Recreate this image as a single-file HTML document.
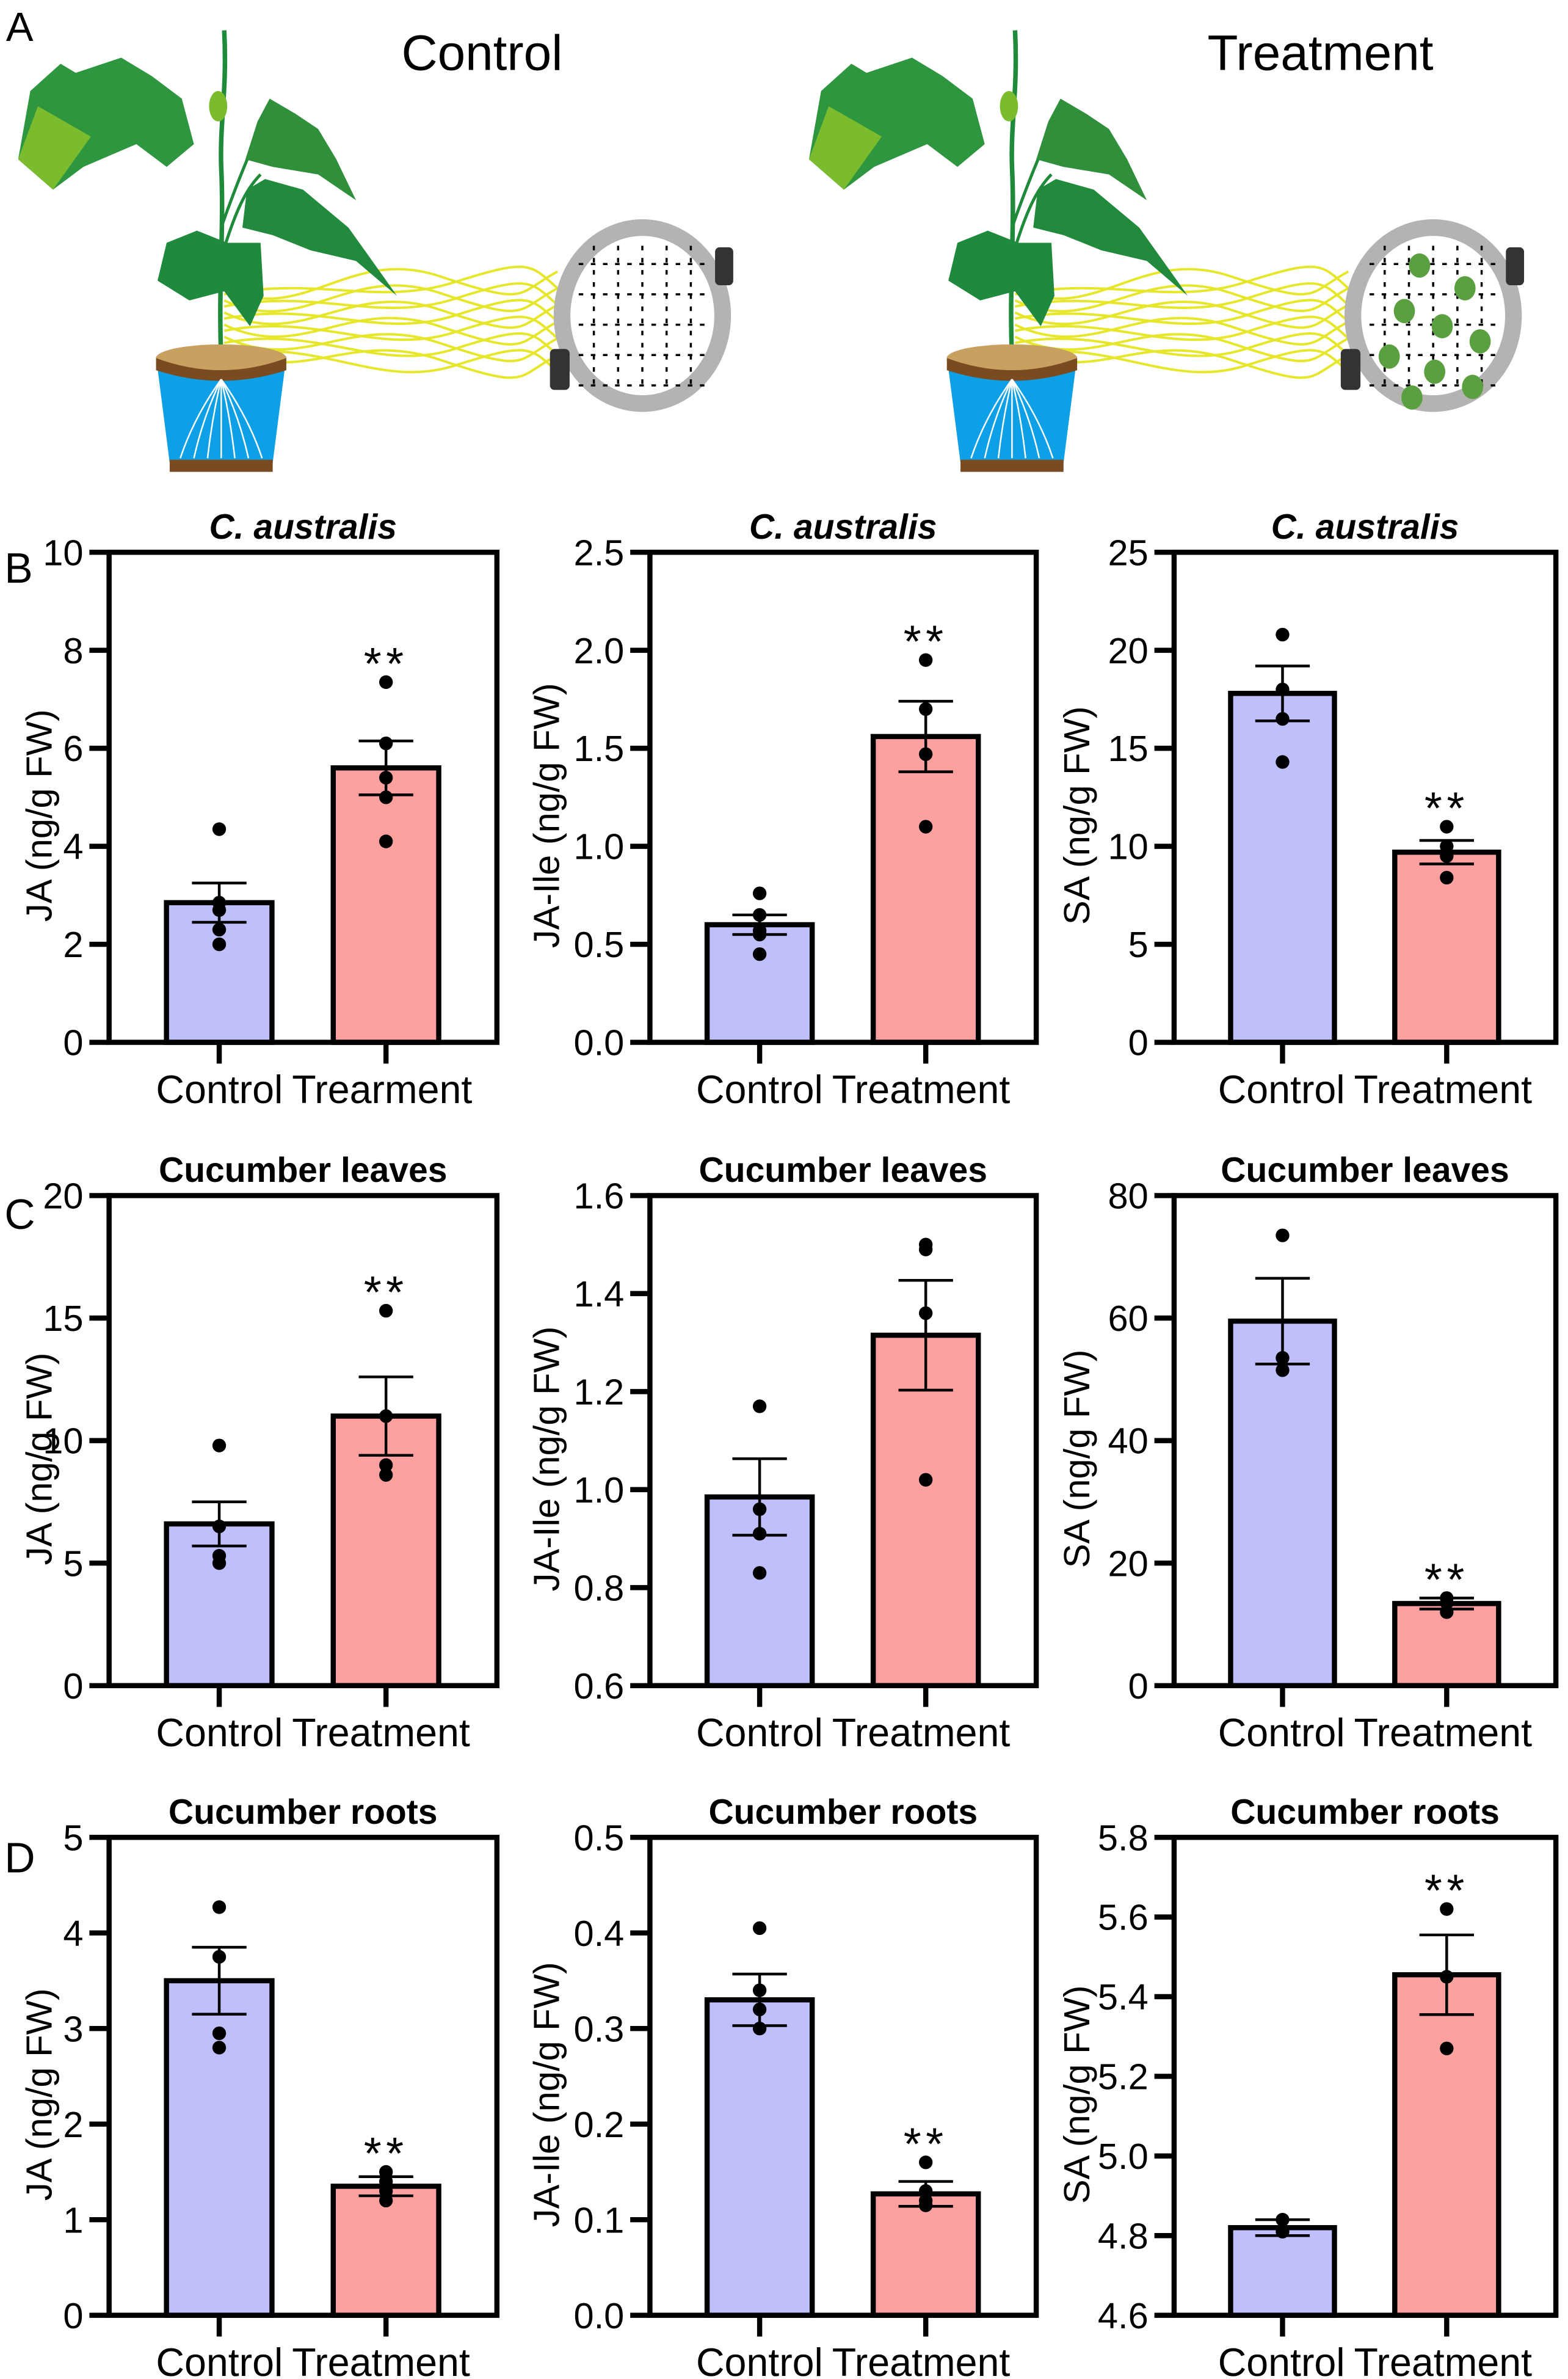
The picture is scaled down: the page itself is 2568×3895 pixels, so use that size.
<!DOCTYPE html>
<html><head><meta charset="utf-8">
<style>
html,body{margin:0;padding:0;background:#fff;}
svg{display:block;}
text{font-family:"Liberation Sans",Arial,sans-serif;}
</style></head>
<body>
<svg id="fig" width="2568" height="3895" viewBox="0 0 1035 1568" preserveAspectRatio="none" xmlns="http://www.w3.org/2000/svg">
<rect x="0" y="0" width="1035" height="1568" fill="#fff"/>
<g id="illus"></g>
<text x="4" y="27" font-size="27">A</text>
<text x="265" y="46" font-size="33">Control</text>
<text x="797" y="46" font-size="33">Treatment</text>
<text x="3" y="384" font-size="28">B</text>
<text x="3" y="810" font-size="28">C</text>
<text x="3" y="1234" font-size="28">D</text>
<g id="charts"></g>
</svg>
<script>
// ---- chart data ----
const groups = ["Control", "Treatment"];
const titles = ["C. australis","C. australis","C. australis","Cucumber leaves","Cucumber leaves","Cucumber leaves","Cucumber roots","Cucumber roots","Cucumber roots"];
const yTitles = ["JA (ng/g FW)","JA-Ile (ng/g FW)","SA (ng/g FW)","JA (ng/g FW)","JA-Ile (ng/g FW)","SA (ng/g FW)","JA (ng/g FW)","JA-Ile (ng/g FW)","SA (ng/g FW)"];
const yMin = [0,0,0,0,0.6,0,0,0,4.6];
const yMax = [10,2.5,25,20,1.6,80,5,0.5,5.8];
const yTicks = [[0,2,4,6,8,10],[0,0.5,1,1.5,2,2.5],[0,5,10,15,20,25],[0,5,10,15,20],[0.6,0.8,1,1.2,1.4,1.6],[0,20,40,60,80],[0,1,2,3,4,5],[0,0.1,0.2,0.3,0.4,0.5],[4.6,4.8,5,5.2,5.4,5.6,5.8]];
const tickDecimals = [0,1,0,0,1,0,0,1,1];
const controlMeans = [2.85,0.6,17.8,6.6,0.985,59.5,3.5,0.33,4.82];
const controlSEM = [0.4,0.05,1.4,0.9,0.078,7.0,0.35,0.027,0.02];
const treatMeans = [5.6,1.56,9.7,11.0,1.315,13.4,1.35,0.127,5.455];
const treatSEM = [0.55,0.18,0.6,1.6,0.112,0.9,0.1,0.013,0.1];
const controlPoints = [[4.35,2.85,2.7,2.3,2.0],[0.76,0.65,0.57,0.55,0.45],[20.8,18.0,16.5,14.3],[9.8,6.5,5.3,5.0],[1.17,0.96,0.91,0.83],[73.5,53.5,51.5],[4.27,3.75,2.95,2.8],[0.405,0.34,0.32,0.30],[4.84,4.81]];
const treatPoints = [[7.35,6.1,5.4,5.0,4.1],[1.95,1.7,1.47,1.1],[11.0,10.0,9.5,8.4],[15.3,11.0,9.0,8.6],[1.5,1.49,1.36,1.02],[14.3,13.5,12.0],[1.5,1.4,1.3,1.2],[0.16,0.13,0.12,0.115],[5.62,5.45,5.27]];
const significant = [true,true,true,true,false,true,true,true,true];
const xLabels = [["Control","Trearment"],["Control","Treatment"],["Control","Treatment"],["Control","Treatment"],["Control","Treatment"],["Control","Treatment"],["Control","Treatment"],["Control","Treatment"],["Control","Treatment"]];

// ---- layout ----
const colLeft = [72,429,775], colRight = [328,684,1027];
const rowTop = [364,788,1211], rowBottom = [687,1111,1526];
const yTitleX = [25,360,710];
const NS = "http://www.w3.org/2000/svg";
function el(tag, attrs, parent){ const e=document.createElementNS(NS,tag); for(const k in attrs) e.setAttribute(k,attrs[k]); parent.appendChild(e); return e; }

const charts = document.getElementById('charts');
for(let i=0;i<9;i++){
  const c=i%3, r=Math.floor(i/3);
  const L=colLeft[c], R=colRight[c], T=rowTop[r], B=rowBottom[r];
  const W=R-L;
  const y = v => B - (v - yMin[i])/(yMax[i]-yMin[i])*(B-T);
  const x = g => L + W*(g===0?0.284:0.714);
  const bw = W*0.272;
  const g = el('g',{},charts);
  
  
  const t=el('text',{x:(L+R)/2,y:T-9,'font-size':23,'font-weight':'bold','text-anchor':'middle','font-style':r===0?'italic':'normal'},g);
  t.textContent=titles[i];
  
  
  const yt=el('text',{x:0,y:0,'font-size':24,'text-anchor':'middle',transform:`translate(${yTitleX[c]+9},${(T+B)/2+12}) rotate(-90)`},g);
  yt.textContent=yTitles[i];
  
  
  const means=[controlMeans[i],treatMeans[i]], sems=[controlSEM[i],treatSEM[i]], pts=[controlPoints[i],treatPoints[i]];
  const fills=['#bfbffb','#fca0a0'];
  const mid=(x(0)+x(1))/2;
  for(let k=0;k<2;k++){
    const cx=x(k);
    const bar=el('rect',{x:cx-bw/2,y:y(means[k]),width:bw,height:B-y(means[k]),fill:fills[k],stroke:'#000','stroke-width':3.4},g);
    
    
    const eg=el('g',{stroke:'#000','stroke-width':1.8},g);
    
    
    el('line',{x1:cx,x2:cx,y1:y(means[k]+sems[k]),y2:y(means[k]-sems[k])},eg);
    el('line',{x1:cx-18,x2:cx+18,y1:y(means[k]+sems[k]),y2:y(means[k]+sems[k])},eg);
    el('line',{x1:cx-18,x2:cx+18,y1:y(means[k]-sems[k]),y2:y(means[k]-sems[k])},eg);
    for(const p of pts[k]){
      const d=el('circle',{cx:cx,cy:y(p),r:4.5,fill:'#000'},g);
      
      
    }
    el('line',{x1:cx,x2:cx,y1:B,y2:B+14,stroke:'#000','stroke-width':3.4},g);
    const xl=el('text',{x:k===0?mid-13:mid-7,y:B+40,'font-size':26,'text-anchor':k===0?'end':'start'},g);
    xl.textContent=xLabels[i][k];
    
    
  }
  if(significant[i]){
    const top=Math.max(...treatPoints[i], treatMeans[i]+treatSEM[i]);
    const s=el('text',{x:x(1),y:y(top)-2,'font-size':30,'text-anchor':'middle','letter-spacing':'3'},g);
    s.textContent='**';
    
    
  }
  const f=el('rect',{x:L,y:T,width:W,height:B-T,fill:'none',stroke:'#000','stroke-width':3.4},g);
  
  
  for(const tv of yTicks[i]){
    const ty=y(tv);
    el('line',{x1:L-13,x2:L,y1:ty,y2:ty,stroke:'#000','stroke-width':3.4},g);
    const tl=el('text',{x:L-17,y:ty+8.5,'font-size':24,'text-anchor':'end'},g);
    tl.textContent=tv.toFixed(tickDecimals[i]);
    
    
  }
}

// ---- illustration ----
const il=document.getElementById('illus');
function plant(ox, mites){
  const g=el('g',{transform:`translate(${ox},0)`},il);
  
  
  const yl=el('g',{stroke:'#e6e62a','stroke-width':1.6,fill:'none'},g);
  for(let j=0;j<6;j++){
    const y0=190+j*8, y1=182+j*11;
    el('path',{d:`M148 ${y0} C200 ${y0+25},230 ${y1-20},290 ${y1} S340 ${y1+12},368 ${y1-3}`},yl);
    el('path',{d:`M148 ${y0+4} C210 ${y0-8},250 ${y1+20},300 ${y1+4} S350 ${y1-8},368 ${y1+8}`},yl);
  }
  el('path',{d:'M146 235 C144 190,148 150,146 110 C145 80,150 60,148 20',stroke:'#1e8a3a','stroke-width':3,fill:'none'},g);
  el('path',{d:'M146 150 C160 110,170 90,178 70',stroke:'#1e8a3a','stroke-width':2,fill:'none'},g);
  el('path',{d:'M146 170 C155 140,162 125,172 115',stroke:'#1e8a3a','stroke-width':2,fill:'none'},g);
  el('path',{d:'M12 105 L20 60 L40 42 L50 48 L80 38 L100 50 L120 65 L128 95 L110 110 L90 95 L55 110 L35 125 Z',fill:'#2f9640'},g);
  el('path',{d:'M12 105 L25 70 L60 90 L35 125 Z',fill:'#7bbb2e'},g);
  el('path',{d:'M162 105 L170 80 L178 65 L195 75 L210 85 L222 105 L235 132 L210 115 L180 110 Z',fill:'#2f8f3a'},g);
  el('path',{d:'M160 150 L163 125 L175 118 L200 125 L230 150 L255 185 L262 195 L235 172 L205 165 L180 155 Z',fill:'#228a3c'},g);
  el('path',{d:'M104 185 L110 160 L130 152 L150 160 L172 160 L174 195 L165 215 L148 192 L125 198 Z',fill:'#1f8a3e'},g);
  el('ellipse',{cx:144,cy:70,rx:6,ry:10,fill:'#7bbb2e'},g);
  el('path',{d:'M103 235 L189 235 L180 305 L112 305 Z',fill:'#0da0e6'},g);
  el('ellipse',{cx:146,cy:236,rx:43,ry:9,fill:'#c8a060'},g);
  el('path',{d:'M103 236 Q146 252 189 236 L189 244 Q146 258 103 244 Z',fill:'#7a4a20'},g);
  el('rect',{x:112,y:303,width:68,height:8,fill:'#7a4a20'},g);
  const rt=el('g',{stroke:'#fff','stroke-width':1,fill:'none'},g);
  for(let j=-3;j<=3;j++) el('path',{d:`M146 250 Q${146+j*6} 275 ${146+j*9} 302`},rt);
  el('ellipse',{cx:424,cy:208,rx:53,ry:58,fill:'#fff',stroke:'#b5b2b2','stroke-width':11},g);
  const mesh=el('g',{stroke:'#000','stroke-width':1.4,'stroke-dasharray':'3 5'},g);
  for(let j=0;j<5;j++){ el('line',{x1:392+j*16,x2:392+j*16,y1:162,y2:256},mesh); el('line',{x1:382,x2:468,y1:174+j*20,y2:174+j*20},mesh); }
  if(mites){
    for(const p of [[415,175],[445,190],[405,205],[430,215],[455,225],[395,235],[425,245],[450,255],[410,262]]){
      el('ellipse',{cx:p[0],cy:p[1],rx:7,ry:8,fill:'#5aa040'},g);
    }
  }
  el('rect',{x:472,y:163,width:12,height:25,rx:3,fill:'#333'},g);
  el('rect',{x:363,y:230,width:13,height:27,rx:3,fill:'#333'},g);
}
plant(0,false);
plant(522,true);
</script>
</body></html>
